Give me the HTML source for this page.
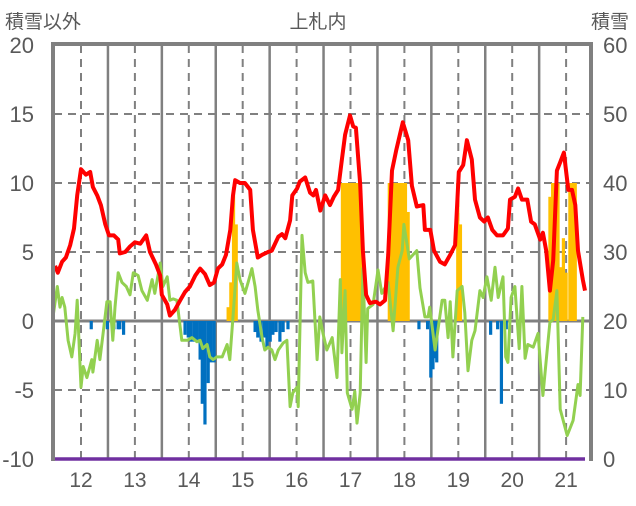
<!DOCTYPE html>
<html><head><meta charset="utf-8">
<style>
html,body{margin:0;padding:0;background:#fff;}
body{width:636px;height:501px;overflow:hidden;font-family:"Liberation Sans","Noto Sans CJK JP",sans-serif;}
svg text{font-family:"Liberation Sans","Noto Sans CJK JP",sans-serif;fill:#595959;}
</style></head><body>
<svg id="chart" width="636" height="501" viewBox="0 0 636 501" xmlns="http://www.w3.org/2000/svg">
<text x="5" y="28" font-size="19">積雪以外</text>
<text x="318" y="28" font-size="19" text-anchor="middle">上札内</text>
<text x="591" y="28" font-size="19">積雪</text>
<g id="grid"></g>
<g id="bars"></g>
<g id="lines"></g>
<g id="frame"></g>
<g id="ticks"></g>
</svg>
<script>
const leftTicks=[20,15,10,5,0,-5,-10];
const rightTicks=[60,50,40,30,20,10,0];
const yearTicks=[12,13,14,15,16,17,18,19,20,21];
const redYears=[11.52,11.57,11.65,11.72,11.80,11.87,11.93,12.00,12.09,12.17,12.22,12.30,12.37,12.45,12.52,12.61,12.69,12.72,12.82,12.91,13.00,13.10,13.21,13.28,13.39,13.47,13.50,13.60,13.65,13.74,13.84,13.93,14.02,14.12,14.21,14.30,14.39,14.47,14.54,14.62,14.69,14.77,14.82,14.86,14.95,15.04,15.14,15.19,15.28,15.36,15.47,15.54,15.66,15.73,15.79,15.88,15.92,16.01,16.06,16.16,16.25,16.31,16.36,16.44,16.53,16.62,16.69,16.77,16.84,16.90,16.99,17.05,17.10,17.18,17.23,17.29,17.36,17.47,17.55,17.64,17.70,17.77,17.85,17.97,18.07,18.14,18.23,18.35,18.38,18.48,18.55,18.66,18.75,18.85,18.94,19.01,19.09,19.16,19.25,19.31,19.40,19.48,19.55,19.63,19.72,19.83,19.92,19.96,20.05,20.11,20.18,20.28,20.35,20.42,20.52,20.57,20.63,20.70,20.76,20.83,20.89,20.96,21.04,21.11,21.17,21.22,21.31,21.35];
const redValues=[4.0,3.5,4.3,4.6,5.5,6.7,9.1,11.0,10.6,10.8,9.7,9.1,8.4,7.0,6.2,6.2,5.9,4.9,5.0,5.4,5.7,5.6,6.2,5.0,4.1,3.3,1.9,1.2,0.4,0.8,1.5,2.1,2.5,3.3,3.8,3.4,2.6,2.8,3.8,4.1,4.8,6.6,9.1,10.2,10.0,10.0,9.5,6.6,4.6,4.8,5.0,5.1,6.1,6.3,6.0,7.3,9.1,9.6,10.1,10.4,9.3,9.1,9.5,8.0,9.1,8.4,9.0,9.5,11.7,13.5,14.9,14.1,14.0,9.9,5.1,1.9,1.3,1.4,1.2,1.5,4.8,10.9,12.4,14.4,13.1,9.8,8.3,8.4,6.6,6.6,5.1,4.3,4.1,4.8,5.5,10.8,11.3,13.1,11.7,8.8,7.5,7.2,7.5,6.6,6.2,6.2,6.7,8.8,9.0,9.6,8.8,8.8,7.2,7.0,5.9,6.4,5.1,2.2,4.4,10.9,11.5,12.2,9.5,9.5,8.4,5.1,3.0,2.2];
const greenYears=[11.48,11.56,11.61,11.65,11.70,11.76,11.83,11.89,11.93,12.00,12.04,12.11,12.20,12.22,12.30,12.35,12.41,12.48,12.54,12.59,12.63,12.69,12.76,12.84,12.91,12.97,13.06,13.13,13.23,13.32,13.37,13.47,13.52,13.60,13.65,13.71,13.78,13.87,13.97,14.06,14.15,14.21,14.26,14.34,14.39,14.45,14.52,14.62,14.71,14.76,14.82,14.89,14.95,15.04,15.10,15.17,15.23,15.28,15.36,15.41,15.47,15.54,15.60,15.66,15.75,15.82,15.88,15.93,16.01,16.03,16.10,16.16,16.21,16.30,16.38,16.43,16.49,16.56,16.66,16.75,16.81,16.84,16.90,16.94,17.03,17.08,17.12,17.18,17.23,17.29,17.32,17.42,17.51,17.58,17.70,17.79,17.88,17.96,17.99,18.09,18.23,18.29,18.38,18.44,18.47,18.57,18.70,18.75,18.81,18.85,18.90,18.98,19.07,19.12,19.18,19.25,19.31,19.40,19.46,19.53,19.61,19.68,19.74,19.83,19.88,19.92,19.98,20.05,20.13,20.18,20.24,20.29,20.39,20.48,20.57,20.65,20.70,20.76,20.83,20.89,21.02,21.13,21.22,21.26,21.31];
const greenValues=[0.3,2.5,1.0,1.7,1.0,-1.4,-2.6,-0.9,1.5,-4.8,-3.3,-4.1,-2.8,-3.7,-1.4,-2.8,-0.9,1.4,1.4,-1.4,1.0,3.5,2.8,2.5,1.9,3.5,3.3,2.2,1.5,3.0,2.0,4.2,2.5,3.2,1.5,1.6,1.5,-1.4,-1.4,-1.2,-1.5,-1.4,-2.0,-1.7,-2.6,-2.8,-2.6,-2.6,-1.7,-2.8,0.3,4.2,3.0,2.0,2.8,3.8,2.5,0.8,-1.2,-2.1,-1.9,-2.1,-2.8,-2.1,-1.6,-1.4,-6.2,-5.2,-4.8,-6.2,6.2,3.5,2.8,2.9,-2.8,0.3,-0.9,-2.1,-1.2,-4.1,3.0,-2.3,2.2,-5.2,-6.4,-5.1,-7.4,-5.2,3.8,-3.0,0.9,1.2,3.7,2.0,2.8,-0.7,3.9,5.1,7.0,4.5,5.1,2.4,0.3,0.3,1.0,-2.1,1.5,1.5,-1.2,1.4,-2.6,2.2,2.5,0.6,-3.6,-1.4,-0.7,2.2,1.7,3.2,1.5,3.9,1.7,3.2,-2.6,-3.0,1.7,2.5,-2.0,2.5,-2.7,-1.7,-1.9,-0.9,-5.4,-2.1,-0.1,0.1,2.2,-6.4,-8.3,-7.2,-4.6,-5.4,0.3];
const blueYears=[12.19,12.49,12.61,12.69,12.72,12.79,13.93,13.99,14.04,14.10,14.15,14.21,14.25,14.30,14.36,14.41,14.47,15.23,15.28,15.34,15.40,15.45,15.51,15.56,15.62,15.69,15.75,15.84,18.27,18.43,18.49,18.53,18.57,18.60,19.60,19.73,19.80,19.89];
const blueValues=[-0.6,-0.6,-0.6,-0.6,-0.6,-1.0,-1.0,-1.2,-1.5,-1.5,-1.5,-2.8,-6.0,-7.5,-4.5,-3.0,-3.0,-0.8,-1.2,-1.5,-1.2,-2.0,-1.5,-1.0,-0.8,-1.5,-0.8,-0.6,-0.6,-0.6,-4.1,-3.5,-2.7,-3.0,-1.0,-0.6,-6.0,-0.6];
const orangeYears=[14.73,14.78,14.83,14.88,16.85,16.90,16.95,17.00,17.05,17.10,17.15,17.20,17.72,17.77,17.82,17.87,17.92,17.97,18.02,18.07,18.99,19.04,20.70,20.75,20.80,20.85,20.90,20.95,21.00,21.07,21.12,21.17];
const orangeValues=[1.0,2.8,9.7,7.0,10,10,10,10,10,10,10,7.0,10,10,10,10,10,10,10,7.9,10,7.0,9.0,10,10,10,3.9,6.0,3.5,10,10,10];
const baseYears=[11.48,21.35];
const baseValues=[-10,-10];

const NS='http://www.w3.org/2000/svg';
const X0=54,X1=590,Y0=45,Y1=459;
function xs(yr){return 81+(yr-12)*53.9;}
function ys(v){return Y1-(v+10)*(Y1-Y0)/30;}
function mk(tag,attrs,parent){const e=document.createElementNS(NS,tag);for(const k in attrs)e.setAttribute(k,attrs[k]);parent.appendChild(e);return e;}
const grid=document.getElementById('grid'),bars=document.getElementById('bars'),lines=document.getElementById('lines'),frame=document.getElementById('frame'),ticks=document.getElementById('ticks');

[15,10,5,-5].forEach(v=>{const l=mk('line',{x1:X0,x2:X1,y1:ys(v),y2:ys(v),stroke:'#808080','stroke-width':2,'stroke-dasharray':'8,6'},grid);

});
yearTicks.forEach(t=>{const l=mk('line',{x1:xs(t),x2:xs(t),y1:Y0,y2:Y1,stroke:'#808080','stroke-width':2,'stroke-dasharray':'8,6'},grid);


if(t<21){const m=mk('line',{x1:xs(t+0.5),x2:xs(t+0.5),y1:Y0,y2:Y1,stroke:'#808080','stroke-width':2.5},grid);

}});
const z=mk('line',{x1:X0,x2:X1,y1:ys(0),y2:ys(0),stroke:'#808080','stroke-width':3},grid);



const bw=3.2;
orangeYears.forEach((yr,i)=>{const v=orangeValues[i];const r=mk('rect',{x:xs(yr)-bw/2,y:ys(v),width:bw,height:ys(0)-ys(v),fill:'#ffc000'},bars);

});
blueYears.forEach((yr,i)=>{const v=blueValues[i];const r=mk('rect',{x:xs(yr)-1.6,y:ys(0),width:3.2,height:ys(v)-ys(0),fill:'#0070c0'},bars);

});

function path(xa,va){return xa.map((yr,i)=>(i?'L':'M')+xs(yr).toFixed(1)+','+ys(va[i]).toFixed(1)).join('');}
const g=mk('path',{d:path(greenYears,greenValues),fill:'none',stroke:'#92d050','stroke-width':3,'stroke-linejoin':'round'},lines);


const r=mk('path',{d:path(redYears,redValues),fill:'none',stroke:'#ff0000','stroke-width':4,'stroke-linejoin':'round'},lines);



const fr=mk('path',{d:`M${X0-1},${Y1+2}V${Y0-1}H${X1+1}V${Y1+2}`,fill:'none',stroke:'#808080','stroke-width':4},frame);


const b=mk('path',{d:path(baseYears,baseValues),fill:'none',stroke:'#7030a0','stroke-width':3.5},lines);



leftTicks.forEach(v=>{const t=mk('text',{x:34,y:ys(v)+8,'font-size':22,'text-anchor':'end'},ticks);t.textContent=v;

});
rightTicks.forEach((v,i)=>{const t=mk('text',{x:603,y:ys(leftTicks[i])+8,'font-size':22},ticks);t.textContent=v;

});
yearTicks.forEach(v=>{const t=mk('text',{x:xs(v),y:487,'font-size':21,'text-anchor':'middle'},ticks);t.textContent=v;

});
</script>
</body></html>
